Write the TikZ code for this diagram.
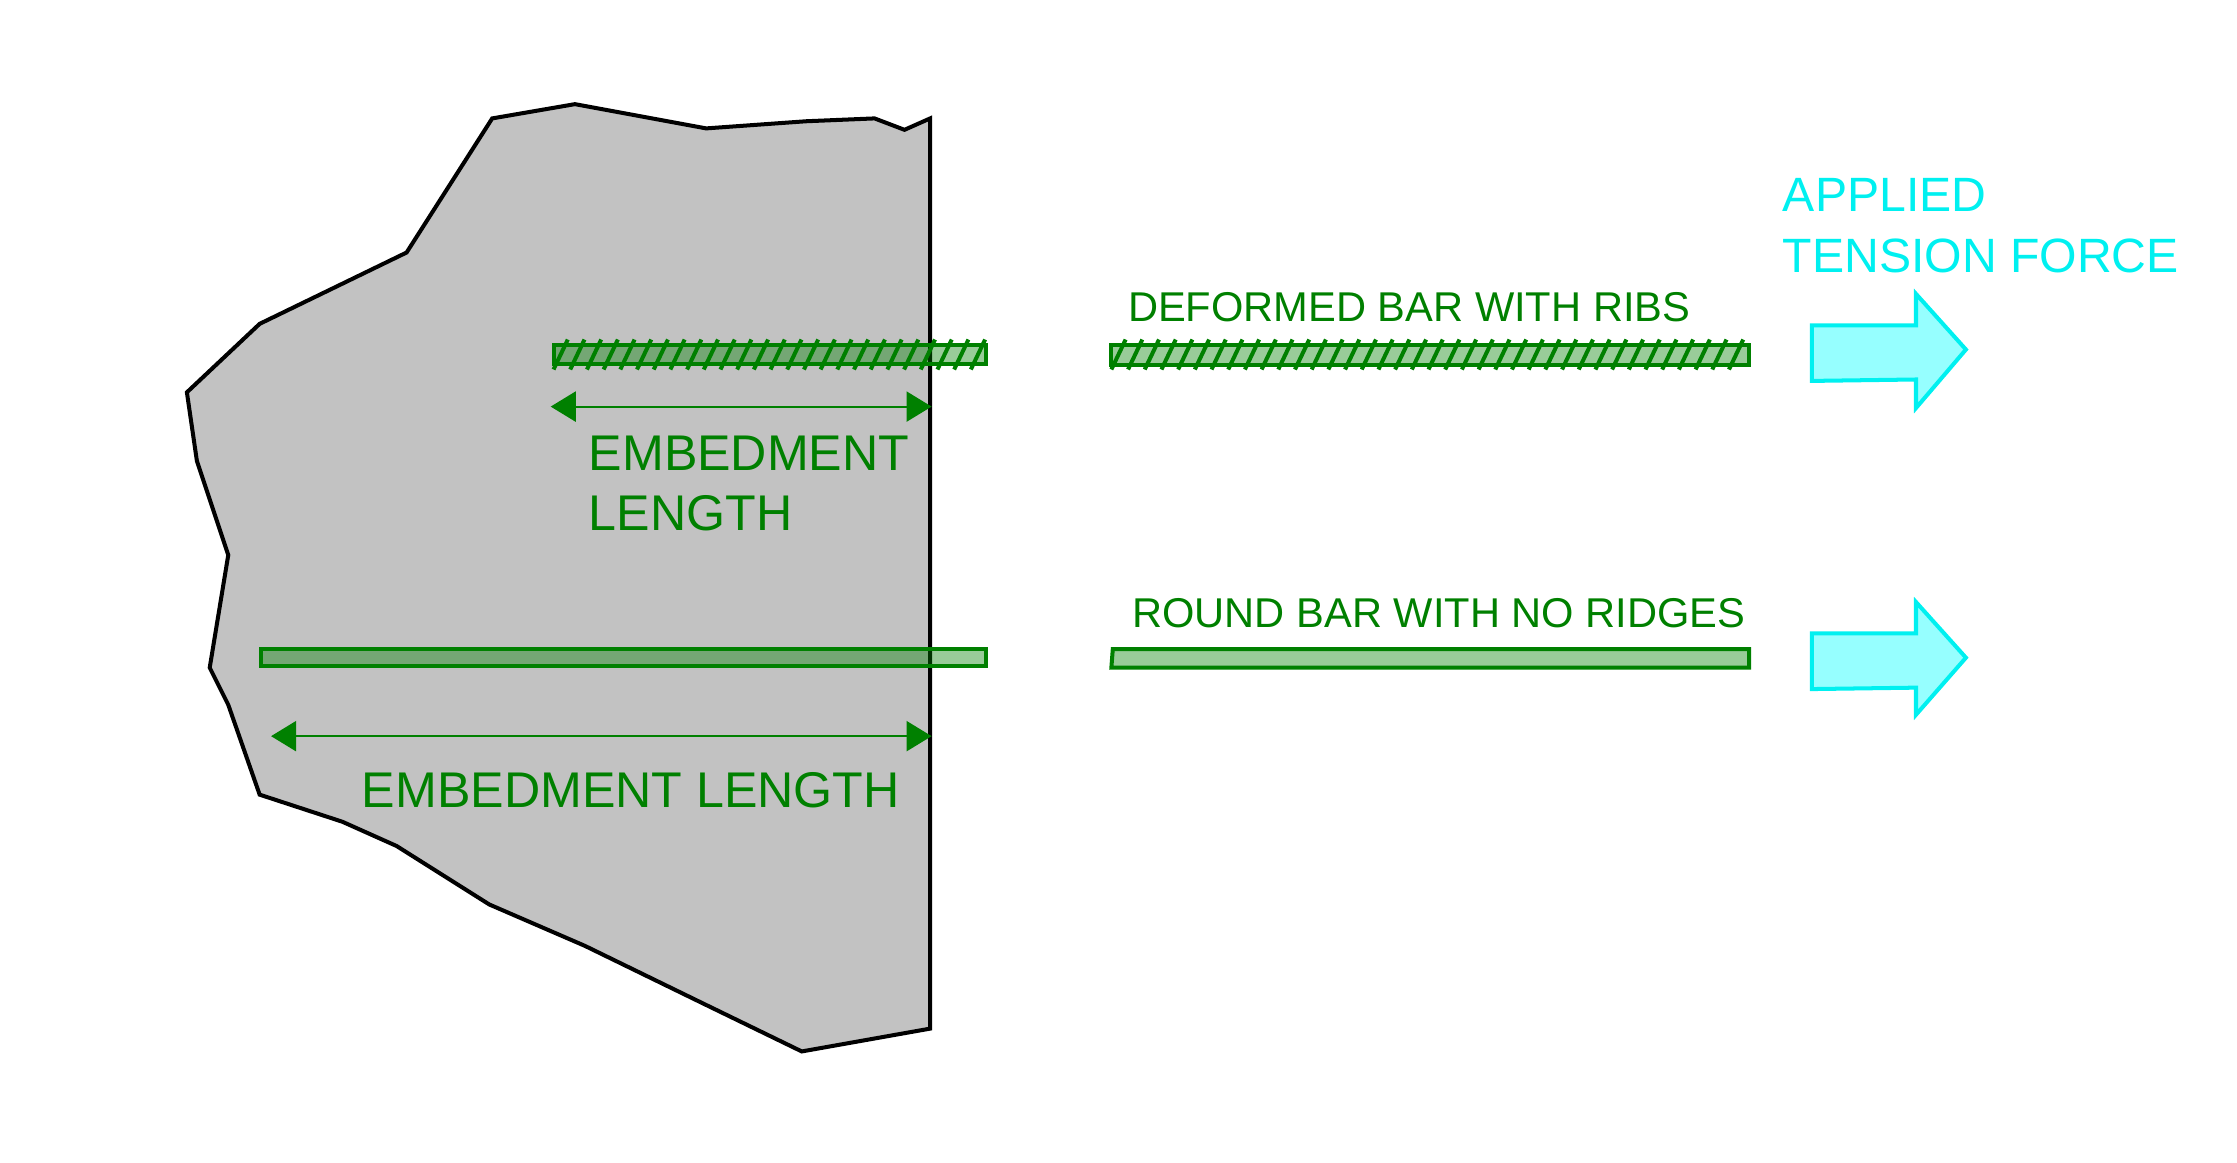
\documentclass[tikz,border=0pt]{standalone}
\usepackage{fontspec}
\setmainfont{Liberation Sans}
\usetikzlibrary{arrows.meta}
\definecolor{bargreen}{RGB}{0,128,0}
\definecolor{forcecyan}{RGB}{0,240,240}
\definecolor{forcefill}{RGB}{150,255,255}
\tikzset{
  bar/.style={draw=bargreen,thick,fill=bargreen,fill opacity=0.4},
  rib/.style={bargreen,thick},
  dim/.style={bargreen,thin,{Triangle[length=5pt,width=6pt]}-{Triangle[length=5pt,width=6pt]}},
  lbl/.style={text=bargreen,anchor=west,inner sep=0pt,font=\fontsize{8.3}{9}\selectfont},
  biglbl/.style={text=bargreen,anchor=north west,inner sep=0pt,align=left,font=\fontsize{10}{12}\selectfont},
  force/.style={draw=forcecyan,thick,fill=forcefill}
}
\begin{document}
\begin{tikzpicture}[x=0.01cm,y=-0.01cm]
            \useasboundingbox (0,0) rectangle (1568,815);
            % concrete block
            \draw[thick,fill=black!24] (652,83) -- (634,91) -- (613,83) -- (565,85) -- (495,90) -- (403,73) -- (345,83) -- (285,177) -- (182,227) -- (131,275) -- (138,323) -- (160,389) -- (147,468) -- (160,494) -- (182,557) -- (240,576) -- (278,593) -- (343,634) -- (410,663) -- (490,702) -- (562,737) -- (652,721) -- cycle;

            % deformed bars
            \draw[bar] (388,242) rectangle (691,255);
            \foreach \x in {0,...,25} \draw[rib] (388+11.7*\x,259) -- (398+11.7*\x,238);
            \draw[bar] (779,242) rectangle (1226,256);
            \foreach \x in {0,...,37} \draw[rib] (779+11.7*\x,259) -- (789+11.7*\x,238);

            % round bars
            \draw[bar] (183,455) rectangle (691,467);
            \draw[bar] (780,455) -- (1226,455) -- (1226,468) -- (779,468) -- cycle;

            % embedment lengths
            \coordinate (E1a) at (386,285);
            \coordinate (E1b) at (653,285);
            \coordinate (E2a) at (190,516);
            \coordinate (E2b) at (653,516);
            \draw[dim] (E1a) -- (E1b);
            \draw[dim] (E2a) -- (E2b);

            \node[lbl] (L1) at (790,215) {DEFORMED BAR WITH RIBS};
            \node[lbl] (L2) at (793,430) {ROUND BAR WITH NO RIDGES};
            \node[biglbl] (L3) at (412,305) {EMBEDMENT\\LENGTH};
            \node[biglbl] (L4) at (253,541) {EMBEDMENT LENGTH};
            \node[text=forcecyan,anchor=north west,inner sep=0pt,align=left,font=\fontsize{9.6}{12.2}\selectfont] (L5) at (1249,124) {APPLIED\\TENSION FORCE};

            % applied forces
            \draw[force] (1270,228) -- (1343,228) -- (1343,206) -- (1378,245) -- (1343,286) -- (1343,266) -- (1270,267) -- cycle;
            \draw[force] (1270,444) -- (1343,444) -- (1343,422) -- (1378,461) -- (1343,501) -- (1343,482) -- (1270,483) -- cycle;
        \end{tikzpicture}
\end{document}
